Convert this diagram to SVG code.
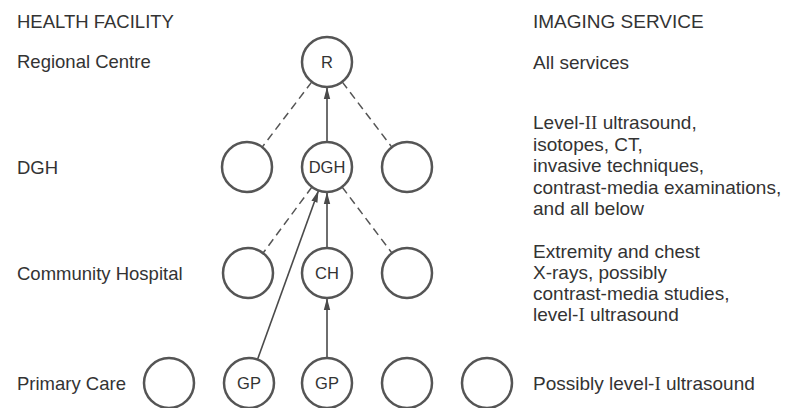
<svg xmlns="http://www.w3.org/2000/svg" width="785" height="408" viewBox="0 0 785 408">
<defs>
<marker id="arr" viewBox="0 0 12 8" refX="12" refY="4" markerWidth="12" markerHeight="8" markerUnits="userSpaceOnUse" orient="auto">
<path d="M0,0.8 L12,4 L0,7.2 Z" fill="#4a4a4a"/>
</marker>
<style>
text{font-family:"Liberation Sans",Arial,sans-serif;fill:#333;}
.lbl{font-size:18.5px;}
.rt{font-size:19px;}
.rn{font-family:"Liberation Serif","Times New Roman",serif;}
.nd circle{fill:#fff;stroke:#555;stroke-width:2.5;}
.nd text{font-size:16.5px;text-anchor:middle;}
.dash{stroke:#555;stroke-width:1.5;stroke-dasharray:8 5;fill:none;}
.solid{stroke:#4a4a4a;stroke-width:1.6;fill:none;marker-end:url(#arr);}
</style>
</defs>
<rect width="785" height="408" fill="#fff"/>
<g id="left-labels">
<text class="lbl" x="17" y="28">HEALTH FACILITY</text>
<text class="lbl" x="17" y="68">Regional Centre</text>
<text class="lbl" x="17" y="174">DGH</text>
<text class="lbl" x="17" y="280">Community Hospital</text>
<text class="lbl" x="17" y="390">Primary Care</text>
</g>
<g id="right-labels">
<text class="rt" x="533" y="28">IMAGING SERVICE</text>
<text class="rt" x="533" y="69">All services</text>
<text class="rt" x="533" y="129">Level-<tspan class="rn">II</tspan> ultrasound,</text>
<text class="rt" x="533" y="150.5">isotopes, CT,</text>
<text class="rt" x="533" y="172">invasive techniques,</text>
<text class="rt" x="533" y="193.5">contrast-media examinations,</text>
<text class="rt" x="533" y="215">and all below</text>
<text class="rt" x="533" y="258">Extremity and chest</text>
<text class="rt" x="533" y="279">X-rays, possibly</text>
<text class="rt" x="533" y="300">contrast-media studies,</text>
<text class="rt" x="533" y="321">level-<tspan class="rn">I</tspan> ultrasound</text>
<text class="rt" x="533" y="390">Possibly level-<tspan class="rn">I</tspan> ultrasound</text>
</g>
<g id="connectors">
<line class="dash" x1="311.8" y1="81.9" x2="262.2" y2="147.1"/>
<line class="dash" x1="342.2" y1="81.9" x2="391.8" y2="147.1"/>
<line class="solid" x1="327" y1="142" x2="327" y2="87"/>
<line class="dash" x1="311.9" y1="187" x2="263.1" y2="253"/>
<line class="dash" x1="342.1" y1="187" x2="391.9" y2="253"/>
<line class="solid" x1="327" y1="248" x2="327" y2="192"/>
<line class="solid" x1="257.5" y1="359.5" x2="318.5" y2="190.5"/>
<line class="solid" x1="327" y1="358" x2="327" y2="298"/>
</g>
<g id="node-R" class="nd"><circle cx="327" cy="62" r="25"/><text x="327" y="68">R</text></g>
<g id="node-DGH-left" class="nd"><circle cx="247" cy="167" r="25"/></g>
<g id="node-DGH" class="nd"><circle cx="327" cy="167" r="25"/><text x="327" y="173">DGH</text></g>
<g id="node-DGH-right" class="nd"><circle cx="407" cy="167" r="25"/></g>
<g id="node-CH-left" class="nd"><circle cx="248" cy="273" r="25"/></g>
<g id="node-CH" class="nd"><circle cx="327" cy="273" r="25"/><text x="327" y="279">CH</text></g>
<g id="node-CH-right" class="nd"><circle cx="407" cy="273" r="25"/></g>
<g id="node-P1" class="nd"><circle cx="169" cy="383" r="25"/></g>
<g id="node-GP1" class="nd"><circle cx="249" cy="383" r="25"/><text x="249" y="389">GP</text></g>
<g id="node-GP2" class="nd"><circle cx="327" cy="383" r="25"/><text x="327" y="389">GP</text></g>
<g id="node-P4" class="nd"><circle cx="407" cy="383" r="25"/></g>
<g id="node-P5" class="nd"><circle cx="487" cy="383" r="25"/></g>
</svg>
